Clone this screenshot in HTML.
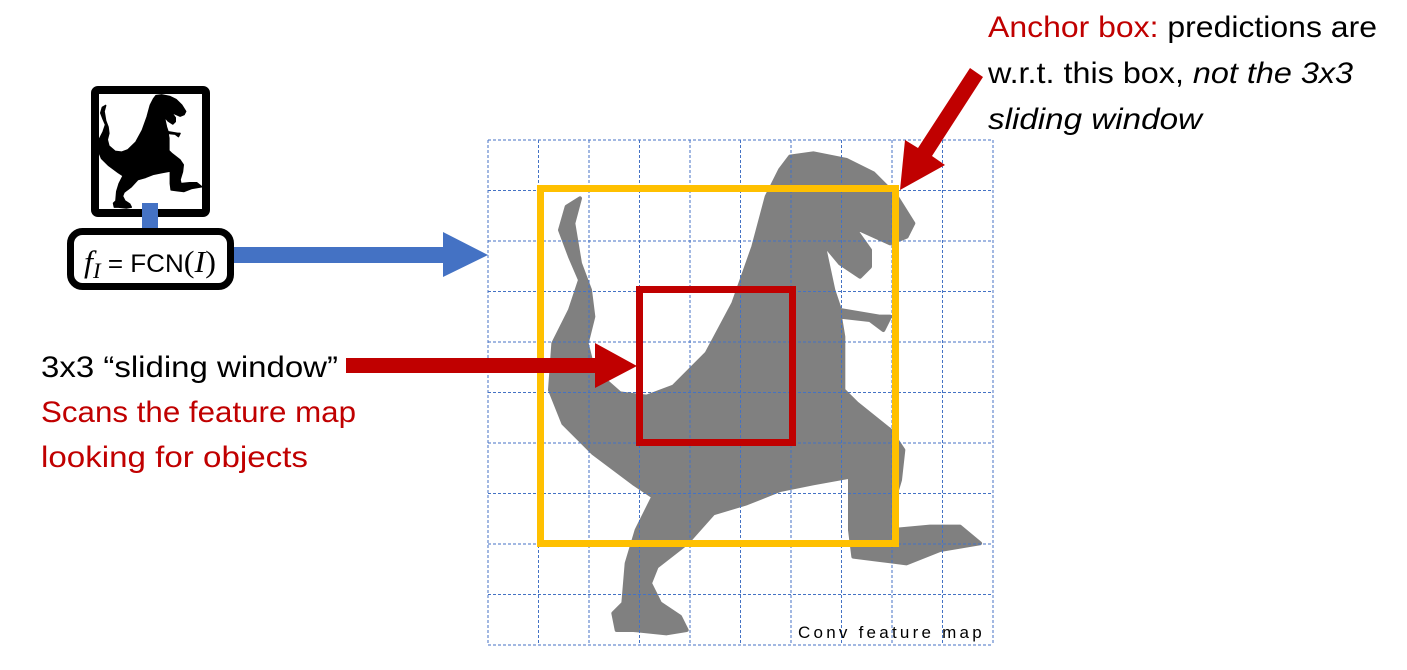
<!DOCTYPE html>
<html><head><meta charset="utf-8"><style>
html,body{margin:0;padding:0;background:#fff;}
svg{display:block;}
text{font-family:"Liberation Sans",sans-serif;}
</style></head><body>
<svg width="1407" height="670" viewBox="0 0 1407 670">
<defs>
<path id="dino" d="M930,80 L1000,70 L1100,90 L1180,130 L1250,200 L1300,280 L1280,320 L1230,340 L1120,290 L1170,360 L1170,410 L1140,440 L1080,400 L1030,340 L1060,480 L1080,540 L1200,560 L1230,560 L1210,600 L1170,570 L1080,560 L1090,620 L1090,780 L1130,820 L1230,900 L1270,960 L1260,1050 L1230,1150 L1240,1200 L1350,1190 L1440,1190 L1500,1240 L1380,1260 L1280,1300 L1200,1290 L1120,1280 L1110,1200 L1110,1040 L1000,1060 L900,1080 L800,1120 L700,1150 L620,1240 L530,1310 L510,1360 L540,1420 L600,1460 L620,1500 L560,1510 L460,1500 L410,1500 L400,1450 L430,1420 L440,1300 L470,1200 L520,1100 L460,1060 L340,970 L250,880 L210,780 L220,640 L270,540 L300,450 L270,380 L240,300 L260,230 L300,205 L280,280 L300,400 L330,480 L340,560 L320,640 L340,720 L420,790 L500,800 L580,770 L680,670 L760,520 L820,350 L860,200 L900,120 Z"/>
</defs>

<use href="#dino" transform="translate(480,130) scale(0.33333)" fill="#808080" stroke="#808080" stroke-width="12" stroke-linejoin="round"/>

<!-- feature map grid -->
<g stroke="#4472c4" stroke-width="1" stroke-dasharray="3,2" fill="none">
<path d="M488,140V645M538.5,140V645M589,140V645M639.5,140V645M690,140V645M740.5,140V645M791,140V645M841.5,140V645M892,140V645M942.5,140V645M993,140V645"/>
<path d="M488,140H993M488,190.5H993M488,241H993M488,291.5H993M488,342H993M488,392.5H993M488,443H993M488,493.5H993M488,544H993M488,594.5H993M488,645H993"/>
</g>

<rect x="540.5" y="188.5" width="355" height="355" fill="none" stroke="#ffc000" stroke-width="7"/>
<rect x="639.5" y="289.5" width="153" height="153" fill="none" stroke="#c00000" stroke-width="7"/>

<text x="798" y="638" font-size="17" letter-spacing="1.3" fill="#000" textLength="185">Conv feature map</text>

<!-- input image -->
<rect x="95" y="90" width="111" height="123" rx="3" fill="#fff" stroke="#000" stroke-width="8"/>
<use href="#dino" transform="translate(81.6,89.4) scale(0.08,0.0785)" fill="#000" stroke="#000" stroke-width="20" stroke-linejoin="round"/>
<rect x="142" y="203" width="16" height="28" fill="#4472c4"/>

<rect x="70.5" y="231.5" width="160" height="55" rx="12" fill="#fff" stroke="#000" stroke-width="7"/>
<text x="84" y="272" font-size="26" fill="#000" textLength="132" lengthAdjust="spacingAndGlyphs"><tspan font-family="Liberation Serif,serif" font-style="italic" font-size="31">f</tspan><tspan font-family="Liberation Serif,serif" font-style="italic" font-size="22" dy="6">I</tspan><tspan dy="-6" font-size="25"> = FCN</tspan><tspan font-family="Liberation Serif,serif" font-size="31">(</tspan><tspan font-family="Liberation Serif,serif" font-style="italic" font-size="31">I</tspan><tspan font-family="Liberation Serif,serif" font-size="31">)</tspan></text>

<polygon points="234,247 443,247 443,232 488,255 443,277 443,263 234,263" fill="#4472c4"/>

<polygon points="346,358 595,358 595,343 637,366 595,388 595,373 346,373" fill="#c00000"/>
<polygon points="970,68 983,77 932,156 945,165 900,190 905,140 918,148" fill="#c00000"/>

<g font-size="30">
<text x="41" y="377" fill="#000" textLength="297" lengthAdjust="spacingAndGlyphs">3x3 “sliding window”</text>
<text x="41" y="422" fill="#c00000" textLength="315" lengthAdjust="spacingAndGlyphs">Scans the feature map</text>
<text x="41" y="467" fill="#c00000" textLength="267" lengthAdjust="spacingAndGlyphs">looking for objects</text>
</g>

<g font-size="30">
<text x="988" y="37" textLength="389" lengthAdjust="spacingAndGlyphs"><tspan fill="#c00000">Anchor box:</tspan><tspan fill="#000"> predictions are</tspan></text>
<text x="988" y="83" fill="#000" textLength="365" lengthAdjust="spacingAndGlyphs">w.r.t. this box, <tspan font-style="italic">not the 3x3</tspan></text>
<text x="988" y="129" fill="#000" font-style="italic" textLength="214" lengthAdjust="spacingAndGlyphs">sliding window</text>
</g>
</svg>
</body></html>
